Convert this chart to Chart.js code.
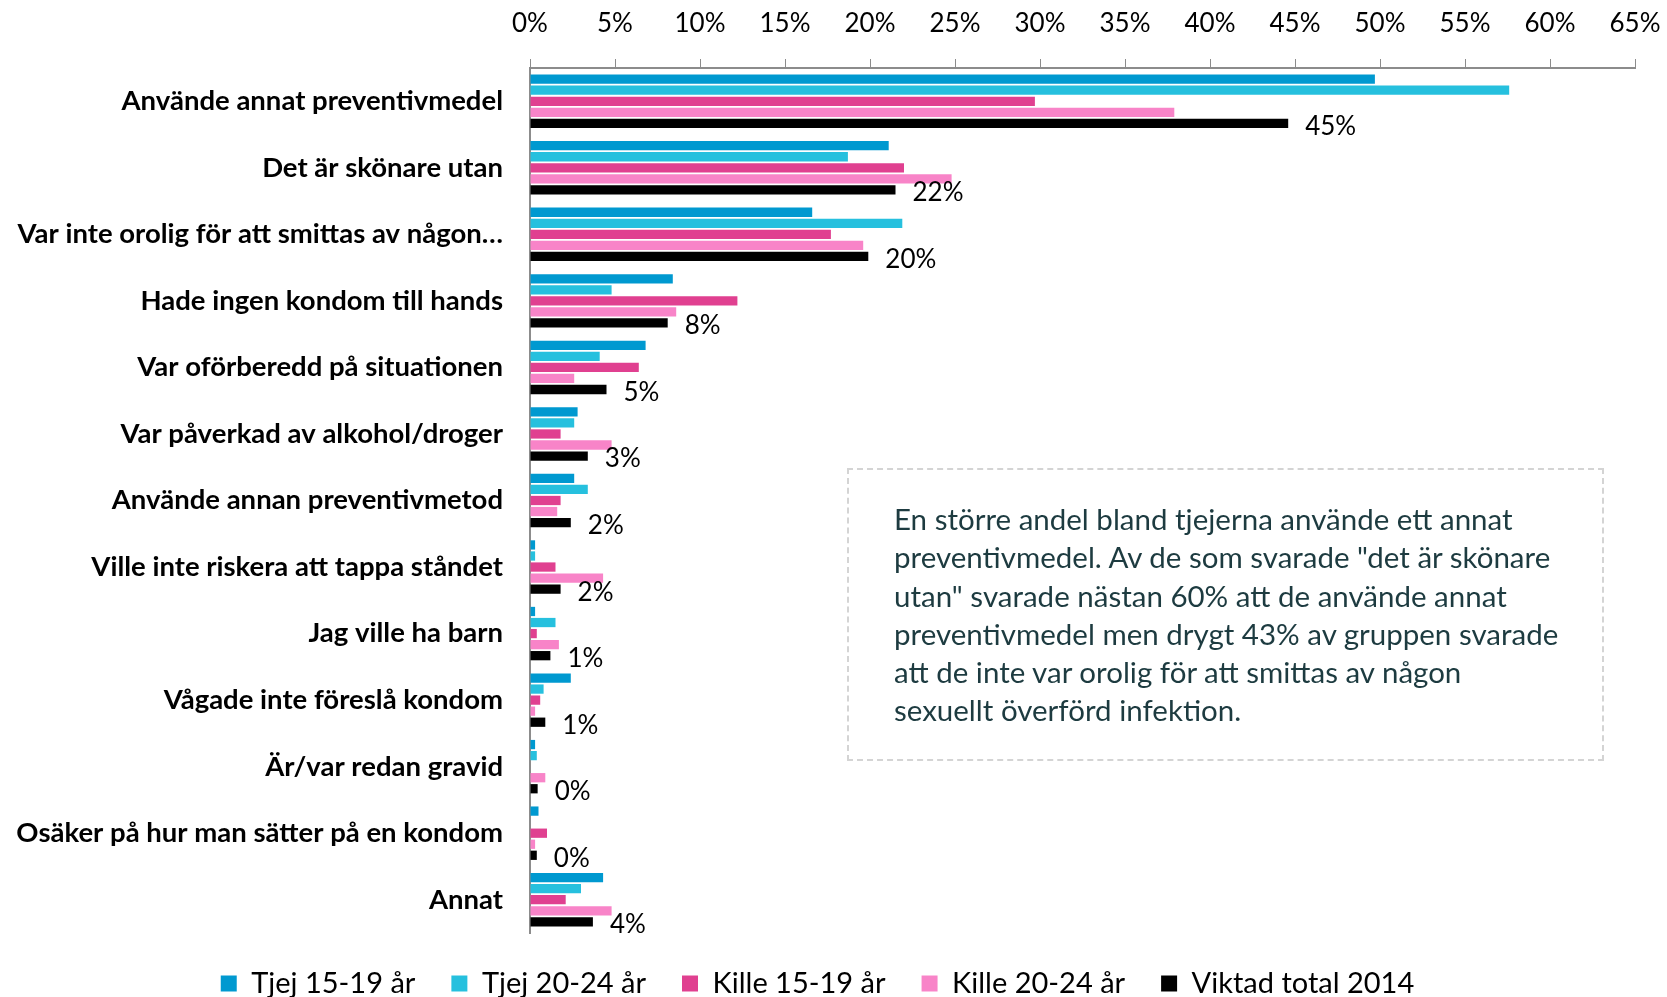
<!DOCTYPE html>
<html lang="sv">
<head>
<meta charset="utf-8">
<title>Anledningar till att inte använda kondom</title>
<script src="https://cdn.jsdelivr.net/npm/chart.js"></script>
<style>
  html,
  body {
    margin: 0;
    padding: 0;
    background: #fff;
  }
  #wrap {
    position: relative;
    width: 1667px;
    height: 997px;
  }
  .note {
    position: absolute;
    left: 847px;
    top: 468px;
    width: 757px;
    height: 293px;
    box-sizing: border-box;
    border: 2px dashed #d4d4d4;
    padding: 30px 0 0 45px;
    font-family: Lato, "Open Sans", sans-serif;
    font-size: 29.5px;
    line-height: 38.3px;
    color: #1d3b40;
    white-space: nowrap;
  }
</style>
</head>
<body>
<div id="wrap">
  <canvas id="myChart"></canvas>
  <div class="note">
    En större andel bland tjejerna använde ett annat<br>
    preventivmedel. Av de som svarade "det är skönare<br>
    utan" svarade nästan 60% att de använde annat<br>
    preventivmedel men drygt 43% av gruppen svarade<br>
    att de inte var orolig för att smittas av någon<br>
    sexuellt överförd infektion.
  </div>
</div>
<script>
"use strict";

const categories = [
  "Använde annat preventivmedel",
  "Det är skönare utan",
  "Var inte orolig för att smittas av någon…",
  "Hade ingen kondom till hands",
  "Var oförberedd på situationen",
  "Var påverkad av alkohol/droger",
  "Använde annan preventivmetod",
  "Ville inte riskera att tappa ståndet",
  "Jag ville ha barn",
  "Vågade inte föreslå kondom",
  "Är/var redan gravid",
  "Osäker på hur man sätter på en kondom",
  "Annat",
];

const tjej1519 = [49.7, 21.1, 16.6, 8.4, 6.8, 2.8, 2.6, 0.3, 0.3, 2.4, 0.3, 0.5, 4.3];
const tjej2024 = [57.6, 18.7, 21.9, 4.8, 4.1, 2.6, 3.4, 0.3, 1.5, 0.8, 0.4, 0, 3.0];
const kille1519 = [29.7, 22.0, 17.7, 12.2, 6.4, 1.8, 1.8, 1.5, 0.4, 0.6, 0, 1.0, 2.1];
const kille2024 = [37.9, 24.8, 19.6, 8.6, 2.6, 4.8, 1.6, 4.3, 1.7, 0.3, 0.9, 0.3, 4.8];
const viktadTotal = [44.6, 21.5, 19.9, 8.1, 4.5, 3.4, 2.4, 1.8, 1.2, 0.9, 0.45, 0.4, 3.7];

const xTicks = [0, 5, 10, 15, 20, 25, 30, 35, 40, 45, 50, 55, 60, 65];

const FONT = "Lato, 'Open Sans', sans-serif";
const AXIS_GREY = "#8c8c8c";

const series = [
  { label: "Tjej 15-19 år", data: tjej1519, color: "#0099d0" },
  { label: "Tjej 20-24 år", data: tjej2024, color: "#26c0de" },
  { label: "Kille 15-19 år", data: kille1519, color: "#e04090" },
  { label: "Kille 20-24 år", data: kille2024, color: "#f884c8" },
  { label: "Viktad total 2014", data: viktadTotal, color: "#000000" },
];

// percentage labels next to the weighted total bars
const totalLabels = {
  id: "totalLabels",
  afterDatasetsDraw(chart) {
    const ctx = chart.ctx;
    const last = chart.data.datasets.length - 1;
    const meta = chart.getDatasetMeta(last);
    ctx.save();
    ctx.font = `26px ${FONT}`;
    ctx.fillStyle = "#000";
    ctx.textAlign = "left";
    ctx.textBaseline = "middle";
    meta.data.forEach((bar, i) => {
      const v = chart.data.datasets[last].data[i];
      ctx.fillText(Math.round(v) + "%", bar.x + 17, bar.y + 3);
    });
    ctx.restore();
  },
};

const ctx = document.getElementById("myChart").getContext("2d");

const myChart = new Chart(ctx, {
  type: "bar",
  data: {
    labels: categories,
    datasets: series.map((s) => ({
      label: s.label,
      data: s.data,
      backgroundColor: s.color,
      borderWidth: 0,
      categoryPercentage: 0.83,
      barPercentage: 0.84,
    })),
  },
  options: {
    indexAxis: "y",
    responsive: true,
    maintainAspectRatio: false,
    animation: false,
    layout: {
      padding: { left: 0, right: 32, top: 0, bottom: 0 },
    },
    scales: {
      x: {
        position: "top",
        min: 0,
        max: 65,
        afterBuildTicks(scale) {
          scale.ticks = xTicks.map((v) => ({ value: v }));
        },
        afterFit(scale) {
          scale.height = 68;
          scale.paddingLeft = 0;
          scale.paddingRight = 0;
        },
        grid: {
          display: true,
          drawOnChartArea: false,
          drawTicks: true,
          tickLength: 9,
          color: AXIS_GREY,
          lineWidth: 1,
        },
        border: { display: true, color: AXIS_GREY, width: 2 },
        ticks: {
          padding: 20,
          color: "#000",
          font: { family: FONT, size: 26 },
          callback: (v) => v + "%",
        },
      },
      y: {
        afterFit(scale) {
          scale.width = 530;
        },
        grid: { display: false, drawTicks: false },
        border: { display: true, color: AXIS_GREY, width: 2 },
        ticks: {
          padding: 27,
          color: "#000",
          font: { family: FONT, size: 27.5, weight: "bold" },
        },
      },
    },
    plugins: {
      legend: {
        position: "bottom",
        maxHeight: 64,
        labels: {
          boxWidth: 16,
          boxHeight: 16,
          padding: 36,
          color: "#000",
          font: { family: FONT, size: 29 },
        },
      },
      tooltip: { enabled: false },
    },
  },
  plugins: [totalLabels],
});
</script>
</body>
</html>
